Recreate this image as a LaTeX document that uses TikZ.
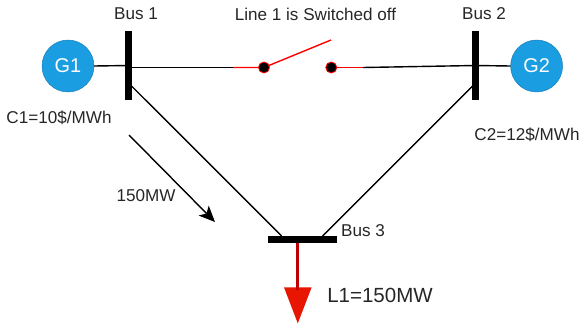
\documentclass[tikz,border=0pt]{standalone}
\usepackage{fontspec}
\setmainfont{Liberation Sans}
\usetikzlibrary{arrows.meta,shapes.geometric}
\definecolor{genblue}{HTML}{1B9DE2}
\definecolor{genedge}{HTML}{1A7DB8}
\definecolor{loadred}{HTML}{C00000}
\definecolor{tipred}{HTML}{E81500}
\definecolor{textgray}{HTML}{262626}
\tikzset{
	gen/.style={circle,draw=genedge,fill=genblue,text=white,minimum size=1.56cm,inner sep=0pt,font=\fontsize{17}{20}\selectfont},
	busbar/.style={rectangle,fill=black,inner sep=0pt},
	lbl/.style={text=textgray,inner sep=0pt,font=\fontsize{14.6}{17}\selectfont},
	contact/.style={circle,draw=red,fill=black,minimum size=0.33cm,inner sep=0pt,line width=0.7pt},
	wire/.style={black,line width=1.2pt},
	redwire/.style={red,line width=1.2pt},
}
\begin{document}
\begin{tikzpicture}[x=0.03cm,y=-0.03cm]
	\useasboundingbox (0,0) rectangle (581,328);
	
	% generators
	\node[gen] (G1) at (68,66) {G1};
	\node[gen] (G2) at (536.6,66) {G2};
	
	% buses
	\node[busbar,minimum width=0.21cm,minimum height=2.07cm] (bus1) at (128.5,65.5) {};
	\node[busbar,minimum width=0.21cm,minimum height=2.07cm] (bus2) at (475.6,65.5) {};
	\node[busbar,minimum width=2.07cm,minimum height=0.22cm] (bus3) at (302,239.3) {};
	
	% switch
	\coordinate (sw1end) at (233,67.5);
	\coordinate (sw2end) at (363,67.5);
	\coordinate (armtip) at (331,40);
	\draw[redwire] (sw1end) -- (264,67.5) -- (armtip);
	\draw[redwire] (331.3,67.5) -- (sw2end);
	\node[contact] (sw1) at (264,67.5) {};
	\node[contact] (sw2) at (331.3,67.5) {};
	
	% connection points on the buses
	\coordinate (b1s) at (131.5,86);
	\coordinate (b2s) at (472.5,86);
	\coordinate (b3l) at (281.6,236);
	\coordinate (b3r) at (322.6,236);
	
	% lines
	\draw[wire] (G1.east) -- (bus1.center);
	\draw[wire] (G2.west) -- (bus2.center);
	\draw[wire] (bus1.center |- sw1end) -- (sw1end);
	\draw[wire] (sw2end) -- (bus2.center);
	\draw[wire] (b1s) -- (b3l);
	\draw[wire] (b2s) -- (b3r);
	
	% load
	\coordinate (loadtop) at (297.5,243);
	\coordinate (loadend) at (297.5,290);
	\node[isosceles triangle,isosceles triangle apex angle=42,shape border rotate=-90,fill=tipred,inner sep=0pt,minimum height=1.08cm,anchor=apex] (loadtip) at (297.8,324) {};
	\draw[loadred,line width=2.6pt] (loadtop) -- (loadend);
	
	% flow arrow
	\coordinate (flowa) at (129,135);
	\coordinate (flowb) at (215,222);
	\draw[black,line width=1.2pt,-{Stealth[length=0.48cm,width=0.42cm,inset=0.12cm]}] (flowa) -- (flowb);
	
	% text
	\node[lbl] (bus1lbl) at (136,14) {Bus 1};
	\node[lbl] (linelbl) at (315.5,14) {Line 1 is Switched off};
	\node[lbl] (bus2lbl) at (484,14) {Bus 2};
	\node[lbl] (bus3lbl) at (363,231) {Bus 3};
	\node[lbl] (c1lbl) at (59,118) {C1=10\$/MWh};
	\node[lbl] (c2lbl) at (527,135) {C2=12\$/MWh};
	\node[lbl] (flowlbl) at (146,196) {150MW};
	\node[lbl,font=\fontsize{17.5}{20}\selectfont] (l1lbl) at (380,295) {L1=150MW};
\end{tikzpicture}
\end{document}
